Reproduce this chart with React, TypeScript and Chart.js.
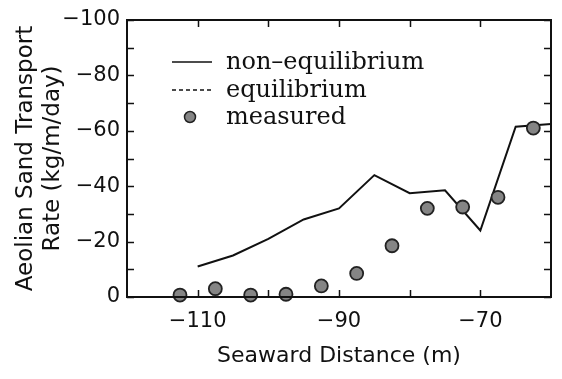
import React, { useEffect, useRef } from "react";
import { Chart, registerables } from "chart.js";

Chart.register(...registerables);

const lineX = [-110, -105, -100, -95, -90, -85, -80, -75, -70, -65, -60];
const nonEquilibriumValues = [-11, -15, -21, -28, -32, -44, -37.5, -38.5, -24, -61.5, -62.5];
const equilibriumX: number[] = [];
const equilibriumValues: number[] = [];
const measuredX = [-112.5, -107.5, -102.5, -97.5, -92.5, -87.5, -82.5, -77.5, -72.5, -67.5, -62.5];
const measuredValues = [-0.7, -3, -0.7, -1, -4, -8.5, -18.5, -32, -32.5, -36, -61];
const xTickLabels = [-110, -90, -70];
const yTickStep = 20;
const legendLabels = ["non–equilibrium", "equilibrium", "measured"];

const fmt = (v: number) => (v === 0 ? "0" : (v < 0 ? "\u2212" : "") + Math.abs(v));

const framePlugin = {
  id: "frameTicks",
  afterDatasetsDraw(chart: any) {
    const { ctx, chartArea, scales } = chart;
    const { left, right, top, bottom } = chartArea;
    ctx.save();
    ctx.strokeStyle = "#111";
    ctx.lineWidth = 2;
    ctx.strokeRect(left, top, right - left, bottom - top);
    ctx.lineWidth = 1.5;
    const tl = 7;
    for (let v = -100; v <= 0; v += 10) {
      const y = Math.round(scales.y.getPixelForValue(v)) + 0.5;
      ctx.beginPath();
      ctx.moveTo(left, y);
      ctx.lineTo(left + tl, y);
      ctx.moveTo(right, y);
      ctx.lineTo(right - tl, y);
      ctx.stroke();
    }
    for (let v = -110; v <= -70; v += 10) {
      const x = Math.round(scales.x.getPixelForValue(v)) + 0.5;
      ctx.beginPath();
      ctx.moveTo(x, bottom);
      ctx.lineTo(x, bottom - tl);
      ctx.moveTo(x, top);
      ctx.lineTo(x, top + tl);
      ctx.stroke();
    }
    ctx.restore();
  },
  afterDraw(chart: any) {
    const { ctx } = chart;
    const rows = [62, 90, 117];
    ctx.save();
    chart.data.datasets.forEach((ds: any, i: number) => {
      const y = rows[i];
      if (ds.showLine === false) {
        ctx.beginPath();
        ctx.arc(190, y, 5.5, 0, Math.PI * 2);
        ctx.fillStyle = ds.backgroundColor;
        ctx.fill();
        ctx.lineWidth = 1.5;
        ctx.strokeStyle = ds.borderColor;
        ctx.stroke();
      } else {
        ctx.beginPath();
        ctx.setLineDash(ds.borderDash || []);
        ctx.lineWidth = 1.5;
        ctx.strokeStyle = "#111";
        ctx.moveTo(172, y);
        ctx.lineTo(212, y);
        ctx.stroke();
        ctx.setLineDash([]);
      }
      ctx.fillStyle = "#111";
      ctx.font = '24px "DejaVu Serif"';
      ctx.textBaseline = "middle";
      ctx.textAlign = "left";
      ctx.fillText(ds.label, 226, y + 1);
    });
    ctx.restore();
  },
};

export default function App() {
  const ref = useRef<HTMLCanvasElement>(null);
  useEffect(() => {
    const chart = new Chart(ref.current!, {
      type: "scatter",
      data: {
        datasets: [
          {
            label: legendLabels[0],
            data: lineX.map((x, i) => ({ x, y: nonEquilibriumValues[i] })),
            showLine: true,
            borderColor: "#111",
            borderWidth: 2,
            pointRadius: 0,
            order: 2,
          },
          {
            label: legendLabels[1],
            data: equilibriumX.map((x, i) => ({ x, y: equilibriumValues[i] })),
            showLine: true,
            borderColor: "#111",
            borderWidth: 1.5,
            borderDash: [4, 3],
            pointRadius: 0,
            order: 1,
          },
          {
            label: legendLabels[2],
            data: measuredX.map((x, i) => ({ x, y: measuredValues[i] })),
            showLine: false,
            backgroundColor: "#858585",
            borderColor: "#222",
            borderWidth: 1.8,
            pointRadius: 6.5,
            clip: false as any,
            order: 0,
          },
        ],
      },
      options: {
        animation: false,
        responsive: true,
        maintainAspectRatio: false,
        layout: { padding: { top: 20, right: 11, left: 0, bottom: 0 } },
        plugins: { legend: { display: false }, tooltip: { enabled: false } },
        scales: {
          x: {
            type: "linear",
            min: -120,
            max: -60,
            grid: { display: false, drawTicks: false },
            border: { display: false },
            afterFit: (s: any) => {
              s.height = 82;
            },
            afterBuildTicks: (s: any) => {
              s.ticks = xTickLabels.map((v) => ({ value: v }));
            },
            ticks: {
              padding: 12,
              color: "#111",
              font: { family: "DejaVu Sans", size: 21 },
              callback: (v: any) => fmt(Number(v)),
              maxRotation: 0,
            },
            title: {
              display: true,
              text: "Seaward Distance (m)",
              color: "#111",
              font: { family: "DejaVu Sans", size: 22 },
              padding: { top: 0, bottom: 10 },
            },
          },
          y: {
            type: "linear",
            min: -100,
            max: 0,
            reverse: true,
            grid: { display: false, drawTicks: false },
            border: { display: false },
            afterFit: (s: any) => {
              s.width = 127;
            },
            ticks: {
              stepSize: yTickStep,
              padding: 7,
              color: "#111",
              font: { family: "DejaVu Sans", size: 21 },
              callback: (v: any) => fmt(Number(v)),
            },
            title: {
              display: true,
              text: ["Aeolian Sand Transport", "Rate (kg/m/day)"],
              color: "#111",
              font: { family: "DejaVu Sans", size: 23 },
              padding: { top: 12, bottom: 0 },
            },
          },
        },
      },
      plugins: [framePlugin],
    });
    return () => chart.destroy();
  }, []);
  return (
    <div style={{ position: "fixed", left: 0, top: 0, width: 562, height: 379, background: "#fff" }}>
      <canvas ref={ref} />
    </div>
  );
}
